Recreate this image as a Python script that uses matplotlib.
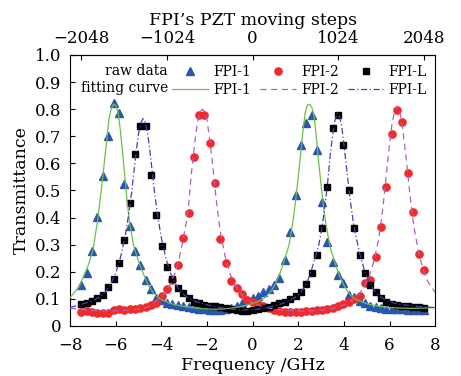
import matplotlib
matplotlib.use("Agg")
import matplotlib.pyplot as plt

plt.rcParams['font.family'] = ['DejaVu Serif']
plt.rcParams['mathtext.fontset'] = 'dejavuserif'

# --- raw data (sampled every 64 PZT steps) ---
freq = [-7.50, -7.27, -7.03, -6.80, -6.56, -6.33, -6.09, -5.86, -5.63, -5.39, -5.16,
        -4.92, -4.69, -4.45, -4.22, -3.98, -3.75, -3.52, -3.28, -3.05, -2.81,
        -2.58, -2.34, -2.11, -1.88, -1.64, -1.41, -1.17, -0.94, -0.70, -0.47, -0.23,
        0.00, 0.23, 0.47, 0.70, 0.94, 1.17, 1.41, 1.64, 1.88, 2.11, 2.34,
        2.58, 2.81, 3.05, 3.28, 3.52, 3.75, 3.98, 4.22, 4.45,
        4.69, 4.92, 5.16, 5.39, 5.63, 5.86, 6.09, 6.33, 6.56, 6.80, 7.03, 7.27, 7.50]

fpi1_raw = [0.151, 0.197, 0.277, 0.401, 0.553, 0.702, 0.822, 0.787, 0.523, 0.367, 0.277,
            0.225, 0.170, 0.135, 0.102, 0.095, 0.086, 0.081, 0.077, 0.074, 0.069,
            0.066, 0.064, 0.062, 0.060, 0.059, 0.060, 0.062, 0.067, 0.074, 0.084, 0.095,
            0.104, 0.112, 0.124, 0.137, 0.151, 0.178, 0.245, 0.348, 0.483, 0.668, 0.748,
            0.780, 0.650, 0.459, 0.311, 0.237, 0.188, 0.160, 0.114, 0.108,
            0.094, 0.084, 0.075, 0.070, 0.066, 0.064, 0.063, 0.062, 0.061, 0.060, 0.060, 0.059, 0.059]

fpi2_raw = [0.053, 0.055, 0.053, 0.047, 0.047, 0.048, 0.059, 0.064, 0.058, 0.062, 0.062,
            0.067, 0.070, 0.077, 0.085, 0.111, 0.135, 0.170, 0.225, 0.323, 0.418,
            0.625, 0.778, 0.778, 0.674, 0.527, 0.320, 0.231, 0.167, 0.141, 0.117, 0.097,
            0.090, 0.082, 0.074, 0.066, 0.060, 0.055, 0.053, 0.053, 0.053, 0.053, 0.054,
            0.056, 0.058, 0.060, 0.062, 0.065, 0.072, 0.080, 0.090, 0.100,
            0.110, 0.157, 0.170, 0.256, 0.366, 0.514, 0.708, 0.797, 0.754, 0.566, 0.422, 0.266, 0.207]

fpil_raw = [0.081, 0.086, 0.093, 0.102, 0.114, 0.143, 0.172, 0.231, 0.317, 0.455, 0.634,
            0.739, 0.738, 0.557, 0.410, 0.295, 0.218, 0.172, 0.139, 0.120, 0.102,
            0.090, 0.084, 0.077, 0.074, 0.072, 0.070, 0.068, 0.064, 0.060, 0.055, 0.055,
            0.058, 0.062, 0.066, 0.071, 0.077, 0.083, 0.089, 0.098, 0.110, 0.127, 0.154,
            0.197, 0.262, 0.360, 0.514, 0.729, 0.778, 0.668, 0.502, 0.360,
            0.262, 0.197, 0.151, 0.127, 0.102, 0.088, 0.081, 0.077, 0.074, 0.072, 0.070, 0.069, 0.068]

# --- fitting curves (frequency, transmittance) ---
fpi1_fit = [(-8.0, 0.105), (-7.6, 0.145), (-7.2, 0.225), (-7.0, 0.28), (-6.8, 0.385),
            (-6.6, 0.525), (-6.4, 0.68), (-6.3, 0.76), (-6.2, 0.80), (-6.1, 0.818),
            (-6.0, 0.815), (-5.9, 0.79), (-5.8, 0.725), (-5.7, 0.64), (-5.6, 0.55),
            (-5.5, 0.46), (-5.4, 0.385), (-5.2, 0.29), (-5.0, 0.24), (-4.8, 0.195),
            (-4.6, 0.155), (-4.4, 0.128), (-4.2, 0.108), (-4.0, 0.097), (-3.6, 0.083),
            (-3.2, 0.075), (-2.7, 0.068), (-2.2, 0.064), (-1.8, 0.062), (-1.4, 0.062),
            (-1.0, 0.065), (-0.6, 0.070), (-0.2, 0.078), (0.2, 0.089), (0.5, 0.102),
            (0.8, 0.127), (1.0, 0.155), (1.2, 0.195), (1.4, 0.245), (1.6, 0.30),
            (1.8, 0.405), (1.9, 0.475), (2.0, 0.55), (2.1, 0.63), (2.2, 0.715),
            (2.3, 0.785), (2.4, 0.815), (2.5, 0.818), (2.6, 0.805), (2.7, 0.77),
            (2.8, 0.69), (2.9, 0.60), (3.0, 0.52), (3.1, 0.445), (3.2, 0.38),
            (3.4, 0.29), (3.6, 0.235), (3.8, 0.185), (4.0, 0.15), (4.2, 0.123),
            (4.4, 0.105), (4.6, 0.095), (5.0, 0.082), (5.5, 0.073), (6.0, 0.068),
            (6.5, 0.066), (7.0, 0.065), (7.5, 0.066), (8.0, 0.068)]

fpi2_fit = [(-8.0, 0.066), (-7.5, 0.060), (-7.0, 0.057), (-6.5, 0.056), (-6.0, 0.056),
            (-5.5, 0.058), (-5.0, 0.062), (-4.6, 0.070), (-4.4, 0.080), (-4.2, 0.094),
            (-4.0, 0.108), (-3.8, 0.128), (-3.6, 0.155), (-3.4, 0.195), (-3.2, 0.255),
            (-3.0, 0.34), (-2.9, 0.385), (-2.8, 0.45), (-2.7, 0.55), (-2.6, 0.63),
            (-2.5, 0.70), (-2.4, 0.76), (-2.3, 0.79), (-2.2, 0.80), (-2.1, 0.79),
            (-2.0, 0.76), (-1.9, 0.70), (-1.8, 0.63), (-1.7, 0.55), (-1.6, 0.47),
            (-1.5, 0.40), (-1.4, 0.34), (-1.2, 0.255), (-1.0, 0.195), (-0.8, 0.155),
            (-0.6, 0.128), (-0.4, 0.108), (-0.2, 0.094), (0.2, 0.078), (0.6, 0.068),
            (1.0, 0.062), (1.4, 0.058), (1.8, 0.056), (2.2, 0.055), (2.6, 0.056),
            (3.0, 0.058), (3.4, 0.063), (3.8, 0.071), (4.0, 0.078), (4.3, 0.092),
            (4.5, 0.105), (4.7, 0.122), (4.9, 0.145), (5.1, 0.18), (5.3, 0.235),
            (5.5, 0.31), (5.6, 0.365), (5.7, 0.43), (5.8, 0.51), (5.9, 0.59),
            (6.0, 0.67), (6.1, 0.74), (6.2, 0.785), (6.3, 0.81), (6.4, 0.805),
            (6.5, 0.77), (6.6, 0.71), (6.7, 0.64), (6.8, 0.56), (6.9, 0.48),
            (7.0, 0.41), (7.1, 0.35), (7.3, 0.26), (7.5, 0.20), (7.7, 0.16), (8.0, 0.125)]

fpil_fit = [(-8.0, 0.068), (-7.5, 0.080), (-7.1, 0.090), (-6.8, 0.102), (-6.6, 0.115),
            (-6.4, 0.132), (-6.2, 0.158), (-6.0, 0.195), (-5.8, 0.25), (-5.6, 0.325),
            (-5.5, 0.375), (-5.4, 0.43), (-5.3, 0.495), (-5.2, 0.57), (-5.1, 0.645),
            (-5.0, 0.71), (-4.9, 0.75), (-4.8, 0.765), (-4.7, 0.75), (-4.6, 0.71),
            (-4.5, 0.645), (-4.4, 0.57), (-4.3, 0.495), (-4.2, 0.43), (-4.1, 0.375),
            (-4.0, 0.325), (-3.8, 0.25), (-3.6, 0.195), (-3.4, 0.158), (-3.2, 0.132),
            (-3.0, 0.115), (-2.8, 0.102), (-2.5, 0.090), (-2.1, 0.080), (-1.8, 0.074),
            (-1.4, 0.068), (-1.0, 0.063), (-0.5, 0.059), (0.0, 0.060), (0.4, 0.064),
            (0.8, 0.071), (1.2, 0.080), (1.6, 0.093), (1.9, 0.108), (2.1, 0.124),
            (2.3, 0.148), (2.5, 0.185), (2.7, 0.24), (2.9, 0.30), (3.0, 0.345),
            (3.1, 0.40), (3.2, 0.465), (3.3, 0.54), (3.4, 0.63), (3.5, 0.70),
            (3.6, 0.755), (3.7, 0.785), (3.8, 0.775), (3.9, 0.74), (4.0, 0.67),
            (4.1, 0.595), (4.2, 0.52), (4.3, 0.45), (4.4, 0.39), (4.5, 0.34),
            (4.7, 0.265), (4.9, 0.205), (5.1, 0.163), (5.3, 0.134), (5.5, 0.115),
            (5.7, 0.102), (6.0, 0.090), (6.4, 0.081), (6.8, 0.076), (7.2, 0.072),
            (7.6, 0.070), (8.0, 0.068)]

x_ticks = [-8, -6, -4, -2, 0, 2, 4, 6, 8]
y_ticks = [0, 0.1, 0.2, 0.3, 0.4, 0.5, 0.6, 0.7, 0.8, 0.9, 1.0]
y_labels = ["0", "0.1", "0.2", "0.3", "0.4", "0.5", "0.6", "0.7", "0.8", "0.9", "1.0"]
step_ticks = [-2048, -1024, 0, 1024, 2048]
steps_per_ghz = 2048 / 7.5

c_blue = '#2a56b0'
c_red = '#f02a2a'
c_green = '#6cc04a'
c_mag = '#b060c0'
c_dd = '#4a3cb8'

fig = plt.figure(figsize=(4.61, 3.76), dpi=100)
ax = fig.add_axes([0.152, 0.133, 0.792, 0.721])

ax.plot(freq, fpi1_raw, linestyle='none', marker='^', color=c_blue, markersize=5.8,
        label='FPI-1', zorder=2)
ax.plot(freq, fpi2_raw, linestyle='none', marker='o', color=c_red, markersize=5.2,
        label='FPI-2', zorder=2)
ax.plot(freq, fpil_raw, linestyle='none', marker='s', color='black', markersize=4.3,
        label='FPI-L', zorder=2)

gx, gy = zip(*fpi1_fit)
mx, my = zip(*fpi2_fit)
dx, dy = zip(*fpil_fit)
ax.plot(gx, gy, color=c_green, linewidth=0.9, label='FPI-1', zorder=3)
ax.plot(mx, my, color=c_mag, linewidth=0.9, linestyle=(0, (5, 3.5)), label='FPI-2', zorder=3)
ax.plot(dx, dy, color=c_dd, linewidth=0.9, linestyle=(0, (5, 2, 1, 2)), label='FPI-L', zorder=3)

ax.set_xlim(-8, 8)
ax.set_ylim(0, 1.0)
ax.set_xticks(x_ticks)
ax.set_yticks(y_ticks)
ax.set_yticklabels(y_labels)
ax.tick_params(direction='in', length=3.5, labelsize=12, pad=6)
ax.tick_params(axis='x', pad=8)
ax.set_xlabel("Frequency /GHz", fontsize=12.5, labelpad=2)
ax.set_ylabel("Transmittance", fontsize=12.5, labelpad=4)

top = ax.secondary_xaxis('top', functions=(lambda f: f * steps_per_ghz,
                                           lambda s: s / steps_per_ghz))
top.set_xticks(step_ticks)
top.tick_params(direction='in', length=3.5, labelsize=12, pad=6)
top.set_xlabel("FPI\u2019s PZT moving steps", fontsize=12.5, labelpad=3)

handles, labels = ax.get_legend_handles_labels()
order = [0, 3, 1, 4, 2, 5]
ax.legend([handles[i] for i in order], [labels[i] for i in order], ncol=3,
          loc='upper right', bbox_to_anchor=(1.0, 0.995), frameon=False,
          fontsize=10, handlelength=2.6, handletextpad=0.35, columnspacing=0.65,
          labelspacing=0.3, borderaxespad=0.2)
ax.text(0.268, 0.941, "raw data", transform=ax.transAxes, ha='right', va='center', fontsize=10)
ax.text(0.268, 0.879, "fitting curve", transform=ax.transAxes, ha='right', va='center', fontsize=10)

fig.savefig("out.png", dpi=100)
